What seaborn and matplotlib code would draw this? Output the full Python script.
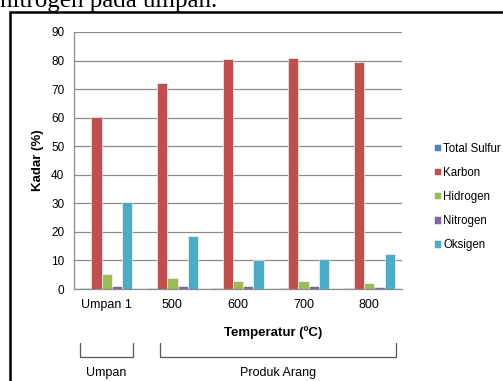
import matplotlib
matplotlib.use("Agg")
import matplotlib.pyplot as plt
from matplotlib.lines import Line2D
from matplotlib.patches import Rectangle
import seaborn as sns
import pandas as pd

# Komposisi umpan dan produk arang (%)
categories = ["Umpan 1", "500", "600", "700", "800"]
series = ["Total Sulfur", "Karbon", "Hidrogen", "Nitrogen", "Oksigen"]
total_sulfur = [0.3, 0.3, 0.2, 0.2, 0.2]
karbon = [60.3, 72.3, 80.5, 80.8, 79.4]
hidrogen = [5.1, 3.8, 2.8, 2.7, 2.2]
nitrogen = [1.1, 1.2, 1.2, 1.0, 0.8]
oksigen = [30.5, 18.5, 10.0, 10.5, 12.2]
yticks = [0, 10, 20, 30, 40, 50, 60, 70, 80, 90]

colors = ["#4F81BD", "#C0504D", "#9BBB59", "#8064A2", "#4BACC6"]

values = [total_sulfur, karbon, hidrogen, nitrogen, oksigen]
df = pd.DataFrame(
    [(c, s, v[i]) for s, v in zip(series, values) for i, c in enumerate(categories)],
    columns=["Temperatur", "Komponen", "Kadar"],
)

sns.set_style("white")
plt.rcParams["font.family"] = ["Liberation Sans", "DejaVu Sans"]
plt.rcParams["text.color"] = "black"
plt.rcParams["axes.labelcolor"] = "black"
plt.rcParams["xtick.labelcolor"] = "black"
plt.rcParams["ytick.labelcolor"] = "black"

W, H = 503, 381
fig = plt.figure(figsize=(W / 100, H / 100), dpi=100)


def fx(px):
    return px / W


def fy(py):
    return 1 - py / H


ax = fig.add_axes([fx(74), fy(289), fx(402) - fx(74), fy(32) - fy(289)])

sns.barplot(
    data=df, x="Temperatur", y="Kadar", hue="Komponen",
    order=categories, hue_order=series, palette=colors,
    width=0.78, ax=ax, edgecolor="white", linewidth=0.4,
    saturation=1, legend=True,
)

ax.set_ylim(0, 90)
ax.set_xlim(-0.5, len(categories) - 0.5)
ax.set_yticks(yticks)
ax.yaxis.grid(True, color="#8c8c8c", linewidth=0.9)
ax.set_axisbelow(True)
for side in ["top", "right"]:
    ax.spines[side].set_visible(False)
for side in ["left", "bottom"]:
    ax.spines[side].set_color("#8c8c8c")
    ax.spines[side].set_linewidth(0.9)

ax.tick_params(axis="y", length=3, color="#8c8c8c", labelsize=8.5, pad=4)
ax.tick_params(axis="x", which="major", length=0, labelsize=9, pad=7)
ax.set_xticks([i - 0.5 for i in range(len(categories) + 1)], minor=True)
ax.tick_params(axis="x", which="minor", length=4, color="#8c8c8c")
ax.set_xlabel("")
ax.set_ylabel("Kadar (%)", fontsize=9.5, fontweight="bold", labelpad=5)

handles, labels = ax.get_legend_handles_labels()
ax.legend_.remove()
fig.legend(
    handles, labels, loc="upper left",
    bbox_to_anchor=(fx(429), fy(138)), frameon=False,
    fontsize=8.3, handlelength=0.6, handleheight=0.6,
    handletextpad=0.25, labelspacing=1.05, borderaxespad=0,
)

fig.text(fx(273), fy(333), "Temperatur (ºC)", ha="center", va="center",
         fontsize=9.5, fontweight="bold")

# Kurung penanda kelompok
bracket_color = "#555555"
for x0, x1, label in [(80, 133, "Umpan"), (160, 396, "Produk Arang")]:
    fig.add_artist(Line2D([fx(x0), fx(x0), fx(x1), fx(x1)],
                          [fy(343), fy(357), fy(357), fy(343)],
                          color=bracket_color, linewidth=0.9))
    fig.text(fx((x0 + x1) / 2), fy(373), label, ha="center", va="center",
             fontsize=9)

# Bingkai gambar
fig.add_artist(Rectangle((fx(10), fy(H + 20)), fx(W + 20) - fx(10),
                         fy(12) - fy(H + 20), fill=False,
                         edgecolor="black", linewidth=1.8))

# Potongan teks dokumen di atas gambar
fig.text(fx(0), fy(7), "nitrogen pada umpan.", ha="left", va="baseline",
         fontsize=18, family=["Liberation Serif", "DejaVu Serif"])

fig.savefig("out.png", dpi=100)
